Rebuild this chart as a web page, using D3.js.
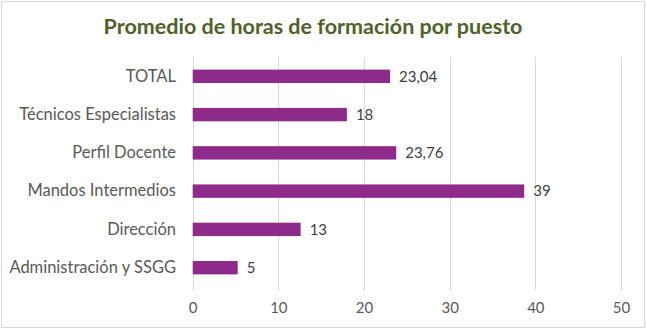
<!DOCTYPE html>
<html><head><meta charset="utf-8">
<script src="https://cdn.jsdelivr.net/npm/d3@7/dist/d3.min.js"></script>
<style>body{margin:0;background:#fff;}svg{display:block;}</style>
</head><body>
<svg id="c" width="647" height="330"></svg>
<script>
const categories = ["TOTAL","Técnicos Especialistas","Perfil Docente","Mandos Intermedios","Dirección","Administración y SSGG"];
const values = [23.04, 18, 23.76, 38.7, 12.6, 5.25];
const valueLabels = ["23,04","18","23,76","39","13","5"];
const ticks = [0,10,20,30,40,50];
const title = "Promedio de horas de formación por puesto";

const FONT = "Lato, 'Open Sans', sans-serif";
const svg = d3.select("#c");
svg.append("rect").attr("x",1.5).attr("y",1.5).attr("width",643).attr("height",326)
  .attr("fill","#fff").attr("stroke","#d9d9d9");

const x = d3.scaleLinear().domain([0,50]).range([192.7,621]);
const y = d3.scaleBand().domain(categories).range([57,287]).paddingInner(0.65).paddingOuter(0.33);

svg.append("text").attr("x",313).attr("y",34).attr("text-anchor","middle")
  .attr("font-family",FONT).attr("font-weight","bold").attr("font-size",21.5)
  .attr("fill","#4f6228").text(title);

const grid = svg.append("g");
grid.selectAll("line").data(ticks).join("line")
  .attr("x1",d=>Math.round(x(d))+0.5).attr("x2",d=>Math.round(x(d))+0.5)
  .attr("y1",57).attr("y2",290).attr("stroke","#d9d9d9");

const xAxis = svg.append("g").attr("transform","translate(0,290)")
  .call(d3.axisBottom(x).tickValues(ticks).tickSize(0).tickPadding(12).tickFormat(d3.format("d")));
xAxis.select(".domain").remove();
xAxis.selectAll("text").attr("font-family",FONT).attr("font-size",15).attr("fill","#595959");

const yAxis = svg.append("g").attr("transform","translate(176,0)")
  .call(d3.axisLeft(y).tickSize(0).tickPadding(0));
yAxis.select(".domain").remove();
yAxis.selectAll("text").attr("font-family",FONT).attr("font-size",16.5).attr("fill","#595959");

svg.selectAll("rect.bar").data(values).join("rect").attr("class","bar")
  .attr("x",x(0)).attr("y",(d,i)=>y(categories[i]))
  .attr("width",d=>x(d)-x(0)).attr("height",y.bandwidth())
  .attr("fill","#8e2a8a");

svg.selectAll("text.val").data(values).join("text").attr("class","val")
  .attr("x",d=>x(d)+9).attr("y",(d,i)=>y(categories[i])+y.bandwidth()/2)
  .attr("dy","0.35em").attr("font-family",FONT).attr("font-size",15)
  .attr("fill","#404040").text((d,i)=>valueLabels[i]);
</script>
</body></html>
